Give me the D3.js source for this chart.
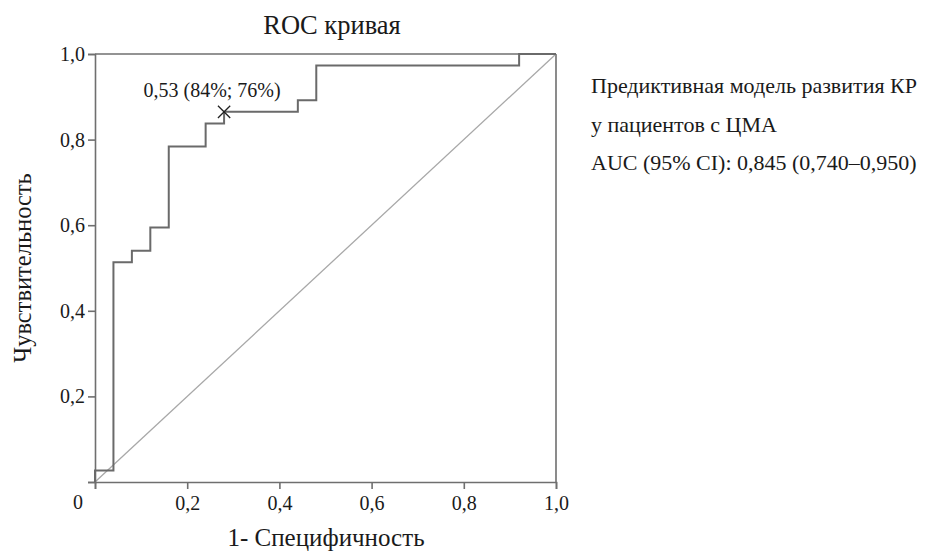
<!DOCTYPE html>
<html>
<head>
<meta charset="utf-8">
<script src="https://cdn.jsdelivr.net/npm/d3@7"></script>
<style>
  body { margin: 0; background: #fff; }
  text { font-family: "Liberation Serif", "DejaVu Serif", serif; fill: #1a1a1a; }
</style>
</head>
<body>
<svg id="chart"></svg>
<script>
// ROC curve points (1 - specificity, sensitivity)
let fpr = [0, 0, 0.04, 0.04, 0.08, 0.08, 0.12, 0.12, 0.16, 0.16, 0.24, 0.24, 0.28, 0.28, 0.44, 0.44, 0.48, 0.48, 0.92, 0.92, 1]
let tpr = [0, 1/37, 1/37, 19/37, 19/37, 20/37, 20/37, 22/37, 22/37, 29/37, 29/37, 31/37, 31/37, 32/37, 32/37, 33/37, 33/37, 36/37, 36/37, 1, 1]

let cutX = 0.28
let cutY = 32 / 37
let cutLabel = '0,53 (84%; 76%)'

let xTicks = [0.2, 0.4, 0.6, 0.8, 1.0]
let yTicks = [0.2, 0.4, 0.6, 0.8, 1.0]

let legendLines = ['Предиктивная модель развития КР', 'у пациентов с ЦМА', 'AUC (95% CI): 0,845 (0,740–0,950)']

let width = 925
let height = 554
let plotLeft = 95, plotRight = 556, plotTop = 54, plotBottom = 482

let axisColor = '#6f6f6f'

let svg = d3.select('#chart')
  .attr('width', width)
  .attr('height', height)

let xScale = d3.scaleLinear().domain([0, 1]).range([plotLeft, plotRight])
let yScale = d3.scaleLinear().domain([0, 1]).range([plotBottom, plotTop])

let fmt = (d) => d3.format('.1f')(d).replace('.', ',')

// frame (top + right)
svg.append('line')
  .attr('x1', xScale(0)).attr('x2', xScale(1))
  .attr('y1', yScale(1)).attr('y2', yScale(1))
  .attr('stroke', axisColor).attr('stroke-width', 1.6)
svg.append('line')
  .attr('x1', xScale(1)).attr('x2', xScale(1))
  .attr('y1', yScale(0)).attr('y2', yScale(1))
  .attr('stroke', axisColor).attr('stroke-width', 1.6)

// diagonal reference
svg.append('line')
  .attr('x1', xScale(0)).attr('y1', yScale(0))
  .attr('x2', xScale(1)).attr('y2', yScale(1))
  .attr('stroke', '#a8a8a8').attr('stroke-width', 1.3)

// axes
let xAxis = d3.axisBottom(xScale)
  .tickValues([0].concat(xTicks))
  .tickSize(7)
  .tickFormat((d) => d === 0 ? '' : fmt(d))

let yAxis = d3.axisLeft(yScale)
  .tickValues([0].concat(yTicks))
  .tickSize(7)
  .tickFormat((d) => d === 0 ? '' : fmt(d))

let gx = svg.append('g')
  .attr('transform', 'translate(0,' + plotBottom + ')')
  .call(xAxis)
let gy = svg.append('g')
  .attr('transform', 'translate(' + plotLeft + ',0)')
  .call(yAxis)

;[gx, gy].forEach((g) => {
  g.select('.domain').attr('stroke', axisColor).attr('stroke-width', 1.6)
  g.selectAll('.tick line').attr('stroke', axisColor).attr('stroke-width', 1.6)
  g.selectAll('.tick text')
    .style('font-family', '"Liberation Serif", serif')
    .style('font-size', '20px')
    .attr('fill', '#1a1a1a')
})
gx.selectAll('.tick text').attr('dy', '0.9em')
gy.selectAll('.tick text').attr('x', -10)

svg.append('text')
  .attr('x', 78).attr('y', 509)
  .attr('text-anchor', 'middle')
  .style('font-size', '20px')
  .text('0')

// ROC curve
let points = fpr.map((x, i) => [x, tpr[i]])
let line = d3.line()
  .x((d) => xScale(d[0]))
  .y((d) => yScale(d[1]))

svg.append('path')
  .datum(points)
  .attr('d', line)
  .attr('fill', 'none')
  .attr('stroke', '#6a6a6a')
  .attr('stroke-width', 2)

// cut-off marker
svg.append('path')
  .attr('d', d3.symbol().type(d3.symbolX).size(100)())
  .attr('transform', 'translate(' + xScale(cutX) + ',' + yScale(cutY) + ')')
  .attr('fill', 'none')
  .attr('stroke', '#222')
  .attr('stroke-width', 1.3)

svg.append('text')
  .attr('x', xScale(cutX) - 12)
  .attr('y', yScale(cutY) - 15)
  .attr('text-anchor', 'middle')
  .style('font-size', '20px')
  .text(cutLabel)

// titles
svg.append('text')
  .attr('x', 332).attr('y', 34)
  .attr('text-anchor', 'middle')
  .style('font-size', '26.5px')
  .text('ROC кривая')

svg.append('text')
  .attr('transform', 'translate(31,' + ((plotTop + plotBottom) / 2) + ') rotate(-90)')
  .attr('text-anchor', 'middle')
  .style('font-size', '24.5px')
  .text('Чувствительность')

svg.append('text')
  .attr('x', 326).attr('y', 546)
  .attr('text-anchor', 'middle')
  .style('font-size', '25px')
  .text('1- Специфичность')

// legend text
svg.selectAll('.legend')
  .data(legendLines)
  .enter()
  .append('text')
  .attr('class', 'legend')
  .attr('x', 591)
  .attr('y', (d, i) => 93 + i * 38.5)
  .style('font-size', '22px')
  .text((d) => d)
</script>
</body>
</html>
